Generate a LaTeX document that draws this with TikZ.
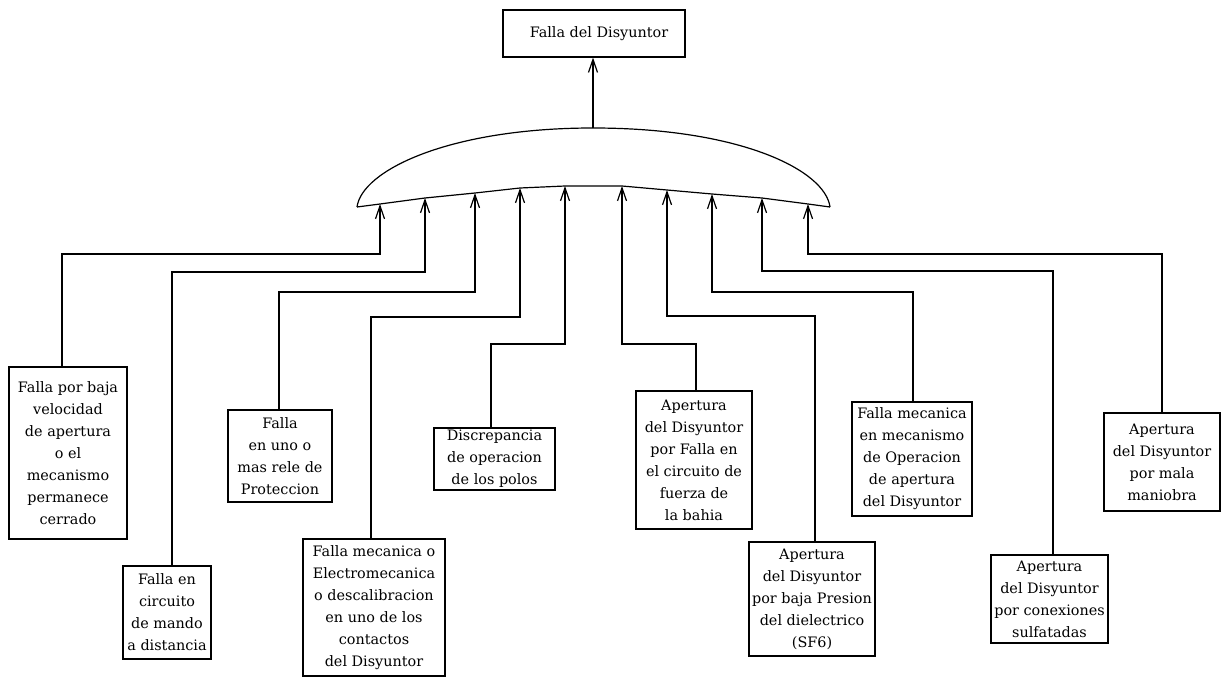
\documentclass[tikz,border=0pt]{standalone}
\usepackage{fontspec}
\setmainfont{DejaVu Serif}
\usetikzlibrary{arrows.meta}
\begin{document}
\begin{tikzpicture}[x=1pt,y=-1pt,
  cause/.style={draw, line width=1.2pt, inner sep=0pt, align=center,
    font=\fontsize{14.4}{22}\selectfont},
  gateline/.style={line width=1.2pt},
  link/.style={line width=1.2pt, -{Straight Barb[length=13pt,width=9pt]}},
]
\useasboundingbox (0,0) rectangle (1225,677);

% top event
\node[cause, minimum width=182pt, minimum height=47pt] (top) at (594,33.5) {\hspace*{10pt}Falla del Disyuntor};

% OR gate, pointing up
\coordinate (gtop) at (593,128);
\draw[gateline] (357,207) .. controls (362,170) and (450,128) .. (gtop)
  .. controls (740,128) and (825,170) .. (830,207);
\draw[gateline] (357,207) -- (380,204) -- (425,198) -- (475,193) -- (520,188)
  -- (565,186) -- (622,186) -- (667,190) -- (712,194) -- (762,198) -- (808,204) -- (830,207);

% input points on the gate
\coordinate (t1) at (380,204);
\coordinate (t2) at (425,198);
\coordinate (t3) at (475,193);
\coordinate (t4) at (520,188);
\coordinate (t5) at (565,186);
\coordinate (t6) at (622,186);
\coordinate (t7) at (667,190);
\coordinate (t8) at (712,194);
\coordinate (t9) at (762,198);
\coordinate (t10) at (808,204);

% elbows of the connectors
\coordinate (h1) at (380,254);
\coordinate (h2) at (425,272);
\coordinate (h3) at (475,292);
\coordinate (h4) at (520,317);
\coordinate (h5) at (565,344);
\coordinate (h6) at (622,344);
\coordinate (h7) at (667,316);
\coordinate (h8) at (712,292);
\coordinate (h9) at (762,271);
\coordinate (h10) at (808,254);

% drop lines above each cause
\coordinate (v1) at (62,0);
\coordinate (v2) at (172,0);
\coordinate (v3) at (279,0);
\coordinate (v4) at (371,0);
\coordinate (v5) at (491,0);
\coordinate (v6) at (696,0);
\coordinate (v7) at (815,0);
\coordinate (v8) at (913,0);
\coordinate (v9) at (1053,0);
\coordinate (v10) at (1162,0);

% causes
\node[cause, minimum width=118pt, minimum height=172pt] (b1) at (68,453)
  {Falla por baja\\velocidad\\de apertura\\o el\\mecanismo\\permanece\\cerrado};
\node[cause, minimum width=88pt, minimum height=93pt] (b2) at (167,612.5)
  {Falla en\\circuito\\de mando\\a distancia};
\node[cause, minimum width=104pt, minimum height=92pt] (b3) at (280,456)
  {Falla\\en uno o\\mas rele de\\Proteccion};
\node[cause, minimum width=142pt, minimum height=137pt] (b4) at (374,607.5)
  {Falla mecanica o\\Electromecanica\\o descalibracion\\en uno de los\\contactos\\del Disyuntor};
\node[cause, minimum width=121pt, minimum height=62pt] (b5) at (494.5,459)
  {Discrepancia\\de operacion\\de los polos};
\node[cause, minimum width=116pt, minimum height=138pt] (b6) at (694,460)
  {Apertura\\del Disyuntor\\por Falla en\\el circuito de\\fuerza de\\la bahia};
\node[cause, minimum width=126pt, minimum height=114pt] (b7) at (812,599)
  {Apertura\\del Disyuntor\\por baja Presion\\del dielectrico\\(SF6)};
\node[cause, minimum width=120pt, minimum height=114pt] (b8) at (912,459)
  {Falla mecanica\\en mecanismo\\de Operacion\\de apertura\\del Disyuntor};
\node[cause, minimum width=117pt, minimum height=88pt] (b9) at (1049.5,599)
  {Apertura\\del Disyuntor\\por conexiones\\sulfatadas};
\node[cause, minimum width=116pt, minimum height=98pt] (b10) at (1162,462)
  {Apertura\\del Disyuntor\\por mala\\maniobra};

% gate output to the top event
\draw[link] (gtop) -- (top.south -| gtop);

% causes into the gate
\foreach \i in {1,...,10}{
  \draw[link] (v\i |- b\i.north) |- (h\i) -- (t\i);
}
\end{tikzpicture}
\end{document}
